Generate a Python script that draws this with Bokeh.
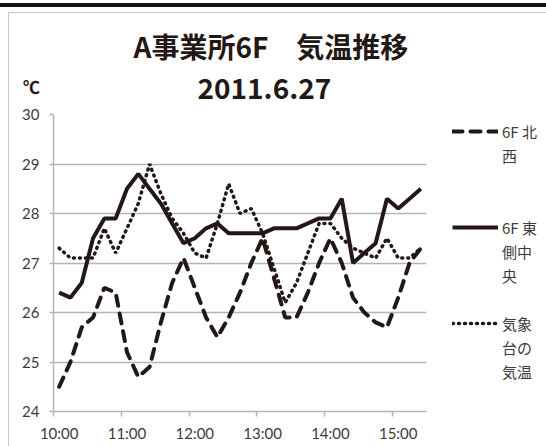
from bokeh.plotting import figure
from bokeh.models import Range1d, FixedTicker, Legend, LegendItem, Label, Title
from bokeh.embed import file_html
from bokeh.resources import INLINE

# ---- data -------------------------------------------------------------
times = ["10:00", "10:10", "10:20", "10:30", "10:40", "10:50",
         "11:00", "11:10", "11:20", "11:30", "11:40", "11:50",
         "12:00", "12:10", "12:20", "12:30", "12:40", "12:50",
         "13:00", "13:10", "13:20", "13:30", "13:40", "13:50",
         "14:00", "14:10", "14:20", "14:30", "14:40", "14:50",
         "15:00", "15:10", "15:20"]

# 6F 北西 (dashed)
nw = [24.5, 25.0, 25.7, 25.9, 26.5, 26.4, 25.2, 24.7, 24.9, 25.8, 26.6,
      27.1, 26.5, 25.9, 25.5, 25.9, 26.4, 27.0, 27.5, 26.7, 25.9, 25.9,
      26.4, 27.0, 27.5, 27.0, 26.3, 26.0, 25.8, 25.7, 26.3, 27.0, 27.3]
# 6F 東側中央 (solid)
east = [26.4, 26.3, 26.6, 27.5, 27.9, 27.9, 28.5, 28.8, 28.5, 28.2, 27.8,
        27.4, 27.5, 27.7, 27.8, 27.6, 27.6, 27.6, 27.6, 27.7, 27.7, 27.7,
        27.8, 27.9, 27.9, 28.3, 27.0, 27.2, 27.4, 28.3, 28.1, 28.3, 28.5]
# 気象台の気温 (dotted)
jma = [27.3, 27.1, 27.1, 27.1, 27.7, 27.2, 27.7, 28.2, 29.0, 28.4, 27.9,
       27.6, 27.2, 27.1, 27.8, 28.6, 28.0, 28.1, 27.6, 26.9, 26.2, 26.6,
       27.2, 27.8, 27.8, 27.5, 27.3, 27.2, 27.1, 27.5, 27.1, 27.1, 27.3]

tick_labels = ["10:00", "11:00", "12:00", "13:00", "14:00", "15:00"]
y_ticks = [24, 25, 26, 27, 28, 29, 30]

title1 = "A事業所6F\u3000気温推移"
title2 = "2011.6.27"
unit = "℃"
# legend text, wrapped as in the original; "" = empty row
legend_rows = [["6F 北", "西", "", ""], ["6F 東", "側中", "央", ""], ["気象", "台の", "気温"]]

# ---- figure -------------------------------------------------------------
INK = "#231815"
GRID = "#b4b4b4"
TXT = "#3c3c3c"

x = list(range(len(times)))

p = figure(frame_width=373, frame_height=297, output_backend="svg", toolbar_location=None,
           x_range=Range1d(-0.5, len(times) - 0.5), y_range=Range1d(24, 30),
           min_border_left=53, min_border_right=120,
           min_border_top=114, min_border_bottom=35)
p.title = None
p.outline_line_color = None
p.background_fill_color = "white"
p.border_fill_color = "white"
p.border_fill_alpha = 0
p.styles = {
    "background-color": "white",
    "background-image": ("linear-gradient(#141414, #141414), "
                         "linear-gradient(#c8c8c8, #c8c8c8), "
                         "linear-gradient(#c8c8c8, #c8c8c8)"),
    "background-size": "100% 4px, 100% 1px, 1px 100%",
    "background-position": "0 3px, 8px 12px, 8px 12px",
    "background-repeat": "no-repeat",
}

# axes
major = [times.index(t) for t in tick_labels]
minor = [m - 0.5 for m in major]
p.xaxis.ticker = FixedTicker(ticks=major, minor_ticks=minor)
p.xaxis.major_label_overrides = {m: t for m, t in zip(major, tick_labels)}
p.xaxis.major_tick_line_color = None
p.xaxis.major_tick_out = 0
p.xaxis.major_tick_in = 0
p.xaxis.minor_tick_line_color = GRID
p.xaxis.minor_tick_line_width = 1.5
p.xaxis.minor_tick_out = 5
p.xaxis.minor_tick_in = 0
p.xaxis.major_label_standoff = 7
p.xaxis.axis_line_color = GRID
p.xaxis.axis_line_width = 1.5

p.yaxis.ticker = FixedTicker(ticks=y_ticks)
p.yaxis.minor_tick_line_color = None
p.yaxis.major_tick_line_color = GRID
p.yaxis.major_tick_line_width = 1.5
p.yaxis.major_tick_out = 4
p.yaxis.major_tick_in = 0
p.yaxis.major_label_standoff = 10
p.yaxis.axis_line_color = GRID
p.yaxis.axis_line_width = 1.5

for ax in (p.xaxis, p.yaxis):
    ax.major_label_text_font = "Lato"
    ax.major_label_text_font_size = "15px"
    ax.major_label_text_color = TXT

p.xgrid.grid_line_color = None
p.ygrid.ticker = FixedTicker(ticks=y_ticks)
p.ygrid.grid_line_color = GRID
p.ygrid.grid_line_width = 1.5

# series
r_nw = p.line(x, nw, line_color=INK, line_width=4, line_dash="10 8", line_cap="round")
r_east = p.line(x, east, line_color=INK, line_width=4)
r_jma = p.line(x, jma, line_color=INK, line_width=3.5, line_dash="1 5", line_cap="round")

# legend (right panel); first row of each entry carries the line sample
items = []
for rows, r in zip(legend_rows, [r_nw, r_east, r_jma]):
    for k, txt in enumerate(rows):
        items.append(LegendItem(label=txt if txt else " ", renderers=[r] if k == 0 else []))
legend = Legend(items=items, location=(26, 28), padding=0, margin=0, spacing=0,
                label_height=24, glyph_height=24, glyph_width=46, label_standoff=4,
                border_line_color=None, background_fill_alpha=0,
                label_text_font="Noto Sans CJK JP", label_text_font_size="15px",
                label_text_color=TXT)
p.add_layout(legend, "right")

# titles (above panel, nearest to the plot first)
p.add_layout(Title(text=title2, align="left", offset=144, text_font="Noto Sans CJK JP",
                   text_font_style="bold", text_font_size="28px", text_color=INK,
                   standoff=32), "above")
p.add_layout(Title(text=title1, align="left", offset=80, text_font="Noto Sans CJK JP",
                   text_font_style="bold", text_font_size="28px", text_color=INK,
                   standoff=-12), "above")
p.add_layout(Label(x=-22, y=-57, x_units="screen", y_units="screen", text=unit,
                   text_align="center", text_baseline="middle",
                   text_font="Noto Sans CJK JP", text_font_style="bold",
                   text_font_size="17px", text_color=INK), "above")

open("out.html", "w").write(file_html(p, INLINE))
